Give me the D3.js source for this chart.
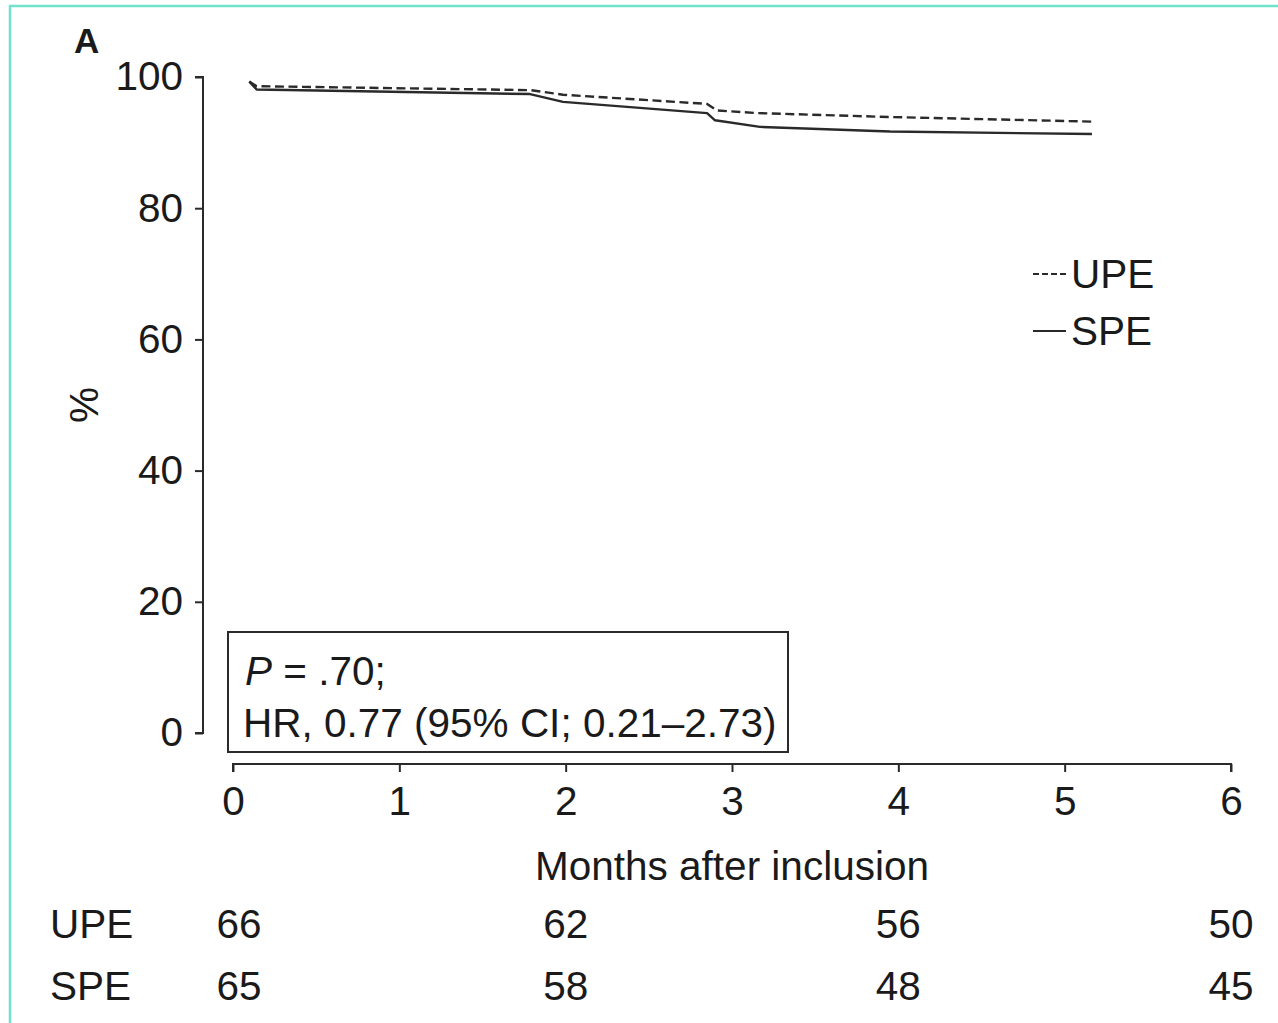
<!DOCTYPE html>
<html>
<head>
<meta charset="utf-8">
<script src="https://cdn.jsdelivr.net/npm/d3@7"></script>
<style>
  html, body { margin: 0; padding: 0; background: #fff; }
  svg { display: block; }
  text { font-family: "Liberation Sans", Arial, sans-serif; fill: #1a1a1a; }
</style>
</head>
<body>
<svg id="chart" width="1278" height="1023"></svg>
<script>
// ---- Data ----
const xTicks = [0, 1, 2, 3, 4, 5, 6];
const yTicks = [0, 20, 40, 60, 80, 100];

const upeTime = [0.098, 0.142, 1.786, 1.984, 2.850, 2.910, 3.150, 3.950, 5.164];
const upeSurv = [99.3, 98.6, 98.0, 97.3, 95.9, 94.9, 94.5, 93.9, 93.2];

const speTime = [0.098, 0.142, 1.786, 1.984, 2.850, 2.898, 3.168, 3.950, 5.164];
const speSurv = [99.3, 98.1, 97.4, 96.2, 94.5, 93.4, 92.4, 91.7, 91.3];

const riskTimes = [0, 2, 4, 6];
const upeRisk = [66, 62, 56, 50];
const speRisk = [65, 58, 48, 45];

const seriesNames = ["UPE", "SPE"];
const statLine1 = ".70;";
const statLine2 = "HR, 0.77 (95% CI; 0.21\u20132.73)";

// ---- Layout ----
const svg = d3.select("#chart");
const ink = "#2a2a2a";
const fs = 40.5;

const x = d3.scaleLinear().domain([0, 6]).range([233, 1231]);
const y = d3.scaleLinear().domain([0, 100]).range([733, 77]);

// teal frame
svg.append("rect")
  .attr("x", 10).attr("y", 6)
  .attr("width", 1400).attr("height", 1200)
  .attr("fill", "none")
  .attr("stroke", "#72e2cc")
  .attr("stroke-width", 2.5);

// panel label
svg.append("text")
  .attr("x", 74).attr("y", 53)
  .attr("font-size", 35).attr("font-weight", "bold")
  .text("A");

// Y axis
const yAxis = d3.axisLeft(y).tickValues(yTicks).tickSize(8).tickPadding(12).tickFormat(d3.format("d"));
const yg = svg.append("g").attr("transform", "translate(203,0)").call(yAxis);
yg.select(".domain").attr("stroke", ink).attr("stroke-width", 2)
  .attr("d", `M-8,${y(100)}H0V${y(0)}H-8`);
yg.selectAll(".tick line").attr("stroke", ink).attr("stroke-width", 2);
yg.selectAll(".tick text")
  .attr("font-size", fs)
  .attr("font-family", "Liberation Sans, Arial, sans-serif")
  .attr("fill", "#1a1a1a");

// X axis
const xAxis = d3.axisBottom(x).tickValues(xTicks).tickSize(8).tickPadding(14).tickFormat(d3.format("d"));
const xg = svg.append("g").attr("transform", "translate(0,764)").call(xAxis);
xg.select(".domain").attr("stroke", ink).attr("stroke-width", 2)
  .attr("d", `M${x(0)},8V0H${x(6)}V8`);
xg.selectAll(".tick line").attr("stroke", ink).attr("stroke-width", 2);
xg.selectAll(".tick text")
  .attr("font-size", fs)
  .attr("font-family", "Liberation Sans, Arial, sans-serif")
  .attr("fill", "#1a1a1a");

// Axis titles
svg.append("text")
  .attr("x", 732).attr("y", 880)
  .attr("text-anchor", "middle")
  .attr("font-size", fs)
  .text("Months after inclusion");

svg.append("text")
  .attr("transform", "translate(98,405) rotate(-90)")
  .attr("text-anchor", "middle")
  .attr("font-size", fs)
  .text("%");

// Curves
const line = d3.line().x(d => x(d[0])).y(d => y(d[1]));
const upePts = upeTime.map((t, i) => [t, upeSurv[i]]);
const spePts = speTime.map((t, i) => [t, speSurv[i]]);

svg.append("path")
  .datum(spePts)
  .attr("d", line)
  .attr("fill", "none")
  .attr("stroke", ink)
  .attr("stroke-width", 2.4)
  .attr("stroke-linejoin", "round");

svg.append("path")
  .datum(upePts)
  .attr("d", line)
  .attr("fill", "none")
  .attr("stroke", ink)
  .attr("stroke-width", 2.4)
  .attr("stroke-dasharray", "9,4.5");

// Legend
const legend = svg.append("g");
const legY = [274, 331];
seriesNames.forEach((name, i) => {
  legend.append("line")
    .attr("x1", 1033).attr("x2", 1066)
    .attr("y1", legY[i]).attr("y2", legY[i])
    .attr("stroke", ink).attr("stroke-width", 2.2)
    .attr("stroke-dasharray", i === 0 ? "6,3" : null);
  legend.append("text")
    .attr("x", 1071).attr("y", legY[i] + 14)
    .attr("font-size", fs)
    .text(name);
});

// Stats box
svg.append("rect")
  .attr("x", 228).attr("y", 632)
  .attr("width", 560).attr("height", 120)
  .attr("fill", "#fff")
  .attr("stroke", ink).attr("stroke-width", 2);

const t1 = svg.append("text").attr("x", 245).attr("y", 685).attr("font-size", fs);
t1.append("tspan").attr("font-style", "italic").text("P");
t1.append("tspan").text(" = " + statLine1);

svg.append("text").attr("x", 243).attr("y", 737).attr("font-size", fs).text(statLine2);

// Risk table
const rows = [upeRisk, speRisk];
const rowY = [938, 1000];
rows.forEach((vals, r) => {
  svg.append("text")
    .attr("x", 50).attr("y", rowY[r])
    .attr("font-size", fs)
    .text(seriesNames[r]);
  svg.selectAll(null)
    .data(vals)
    .enter()
    .append("text")
    .attr("x", (d, i) => x(riskTimes[i]) + (i === 0 ? 6 : 0))
    .attr("y", rowY[r])
    .attr("text-anchor", "middle")
    .attr("font-size", fs)
    .text(d => d);
});
</script>
</body>
</html>
